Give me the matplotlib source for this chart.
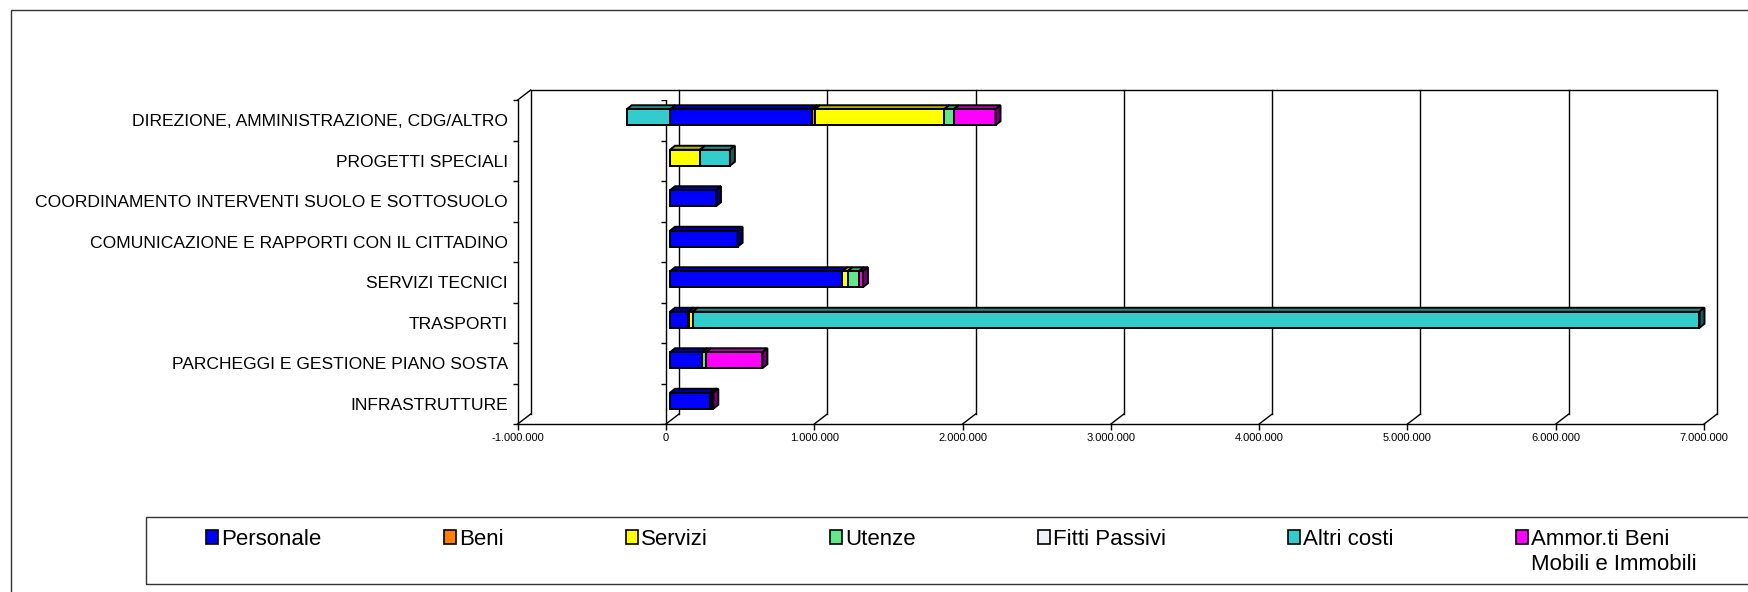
import numpy as np
import matplotlib
matplotlib.use("Agg")
import matplotlib.pyplot as plt
from matplotlib.patches import Rectangle, Polygon, Patch

plt.rcParams['font.family'] = ['Liberation Sans', 'DejaVu Sans']

# ── data (euro), categories listed top to bottom ──
categories = ["DIREZIONE, AMMINISTRAZIONE, CDG/ALTRO", "PROGETTI SPECIALI",
              "COORDINAMENTO INTERVENTI SUOLO E SOTTOSUOLO",
              "COMUNICAZIONE E RAPPORTI CON IL CITTADINO", "SERVIZI TECNICI",
              "TRASPORTI", "PARCHEGGI E GESTIONE PIANO SOSTA", "INFRASTRUTTURE"]
personale = [955000, 0, 310000, 456000, 1162000, 119000, 218000, 272000]
beni      = [22000, 0, 0, 0, 0, 8000, 0, 0]
servizi   = [872000, 202000, 0, 0, 36000, 25000, 0, 8000]
utenze    = [65000, 0, 0, 0, 76000, 0, 25000, 0]
fitti     = [0, 0, 0, 0, 0, 0, 0, 0]
altri     = [-292000, 202000, 0, 0, 0, 6790000, 0, 0]
ammort    = [281000, 0, 0, 0, 27000, 0, 380000, 12000]
series_names = ["Personale", "Beni", "Servizi", "Utenze", "Fitti Passivi", "Altri costi", "Ammor.ti Beni"]
xticks = np.arange(-1000000, 7000001, 1000000)

series = [personale, beni, servizi, utenze, fitti, altri, ammort]
colors = ["#0000FF", "#FF8000", "#FFFF00", "#60E88A", "#EEF2F8", "#33CCCC", "#FF00FF"]

def shade(c, f):
    r, g, b = matplotlib.colors.to_rgb(c)
    return (r * f, g * f, b * f)

W, H, DPI = 1749, 592, 100
fig = plt.figure(figsize=(W / DPI, H / DPI), dpi=DPI)
x_front0, x_front1, y_top, y_bot = 517.7, 1704.1, 100, 424
ax = fig.add_axes([x_front0 / W, (H - y_bot) / H, (x_front1 - x_front0) / W, (y_bot - y_top) / H])
n = len(categories)
ax.set_xlim(xticks[0], xticks[-1])
ax.set_ylim(n - 0.5, -0.5)
ax.patch.set_visible(False)

sx = ax.bbox.width / (xticks[-1] - xticks[0])   # px per euro
sy = ax.bbox.height / n                          # px per category
def dx(px): return px / sx
def dy(px): return px / sy

# ── walls, floor, grid (3D look) ──
wx, wy = dx(13), dy(10)
lk = dict(color="black", lw=1.0, clip_on=False, zorder=1)
ylo, yhi = n - 0.5, -0.5
ax.plot([xticks[0] + wx, xticks[0] + wx, xticks[-1] + wx, xticks[-1] + wx],
        [ylo - wy, yhi - wy, yhi - wy, ylo - wy], **lk)
for v in xticks[1:-1]:
    ax.plot([v + wx, v + wx], [ylo - wy, yhi - wy], **lk)
for v in xticks:
    ax.plot([v, v + wx], [ylo, ylo - wy], **lk)
ax.plot([xticks[0], xticks[0] + wx], [yhi, yhi - wy], **lk)
# category axis at zero
bounds = np.arange(n + 1) - 0.5
ax.plot([0, 0], [ylo, yhi], color="black", lw=1.0, zorder=1.5)
ax.plot(np.zeros(n + 1), bounds, ls="none", marker=0, ms=3.6, mew=1.0, color="black", zorder=1.5)

# ── 3D stacked bars ──
bh = 16 / sy
ox, oy = dx(4), dy(3)
bx, by = dx(5), dy(4)
ek = dict(edgecolor="black", lw=1.4, clip_on=False, zorder=3, joinstyle="miter")
for i in range(n):
    yc = i - oy
    yt, yb = yc - bh / 2, yc + bh / 2
    pos, neg = 0.0, 0.0
    last_pos = None
    segs = []
    for s, vals in enumerate(series):
        v = vals[i]
        if v > 0:
            segs.append((pos, pos + v, s)); pos += v; last_pos = (pos, s)
        elif v < 0:
            segs.append((neg + v, neg, s)); neg += v
    for l, r, s in segs:
        l2, r2 = l + ox, r + ox
        ax.add_patch(Polygon([(l2, yt), (r2, yt), (r2 + bx, yt - by), (l2 + bx, yt - by)],
                             facecolor=shade(colors[s], 0.7), **ek))
        ax.add_patch(Rectangle((l2, yt), r - l, bh, facecolor=colors[s], **ek))
    if last_pos is not None:
        r2, s = last_pos[0] + ox, last_pos[1]
        ax.add_patch(Polygon([(r2, yt), (r2 + bx, yt - by), (r2 + bx, yb - by), (r2, yb)],
                             facecolor=shade(colors[s], 0.45), **ek))

# ── axes styling ──
for sp in ["top", "right"]:
    ax.spines[sp].set_visible(False)
for sp in ["left", "bottom"]:
    ax.spines[sp].set_linewidth(1.0)
ax.set_yticks(range(n))
ax.set_yticklabels(categories, fontsize=12.6)
ax.set_yticks(bounds, minor=True)
ax.tick_params(axis="y", which="major", length=0, pad=7.2)
ax.tick_params(axis="y", which="minor", length=3.6, width=1.0, direction="out")
ax.set_xticks(xticks)
ax.set_xticklabels([f"{v:,.0f}".replace(",", ".") for v in xticks], fontsize=8)
ax.tick_params(axis="x", length=4.3, width=1.0, direction="out", pad=2.5)

# ── legend ──
handles = [Patch(facecolor=c, edgecolor="black", lw=1.2) for c in colors]
leg = fig.legend(handles, series_names, loc="center left", ncol=7, frameon=False,
                 bbox_to_anchor=(206 / W, (H - 539.3) / H), fontsize=16,
                 handlelength=0.54, handleheight=0.6, handletextpad=0.14,
                 columnspacing=5.5, borderpad=0, borderaxespad=0)
fig.patches.append(Rectangle((145.5 / W, (H - 584) / H), 2, (584 - 517) / H, transform=fig.transFigure,
                             fill=False, edgecolor="#333333", lw=1.0))
fig.patches.append(Rectangle((10.7 / W, -0.2), 2, (H - 10) / H + 0.2, transform=fig.transFigure,
                             fill=False, edgecolor="#333333", lw=1.0))
fig.canvas.draw()
bb = leg.get_texts()[-1].get_window_extent()
fig.text(bb.x0 / W, ((bb.y0 + bb.y1) / 2 - 24.7) / H, "Mobili e Immobili",
         fontsize=16, va="center", ha="left")

fig.savefig("out.png", dpi=DPI)
